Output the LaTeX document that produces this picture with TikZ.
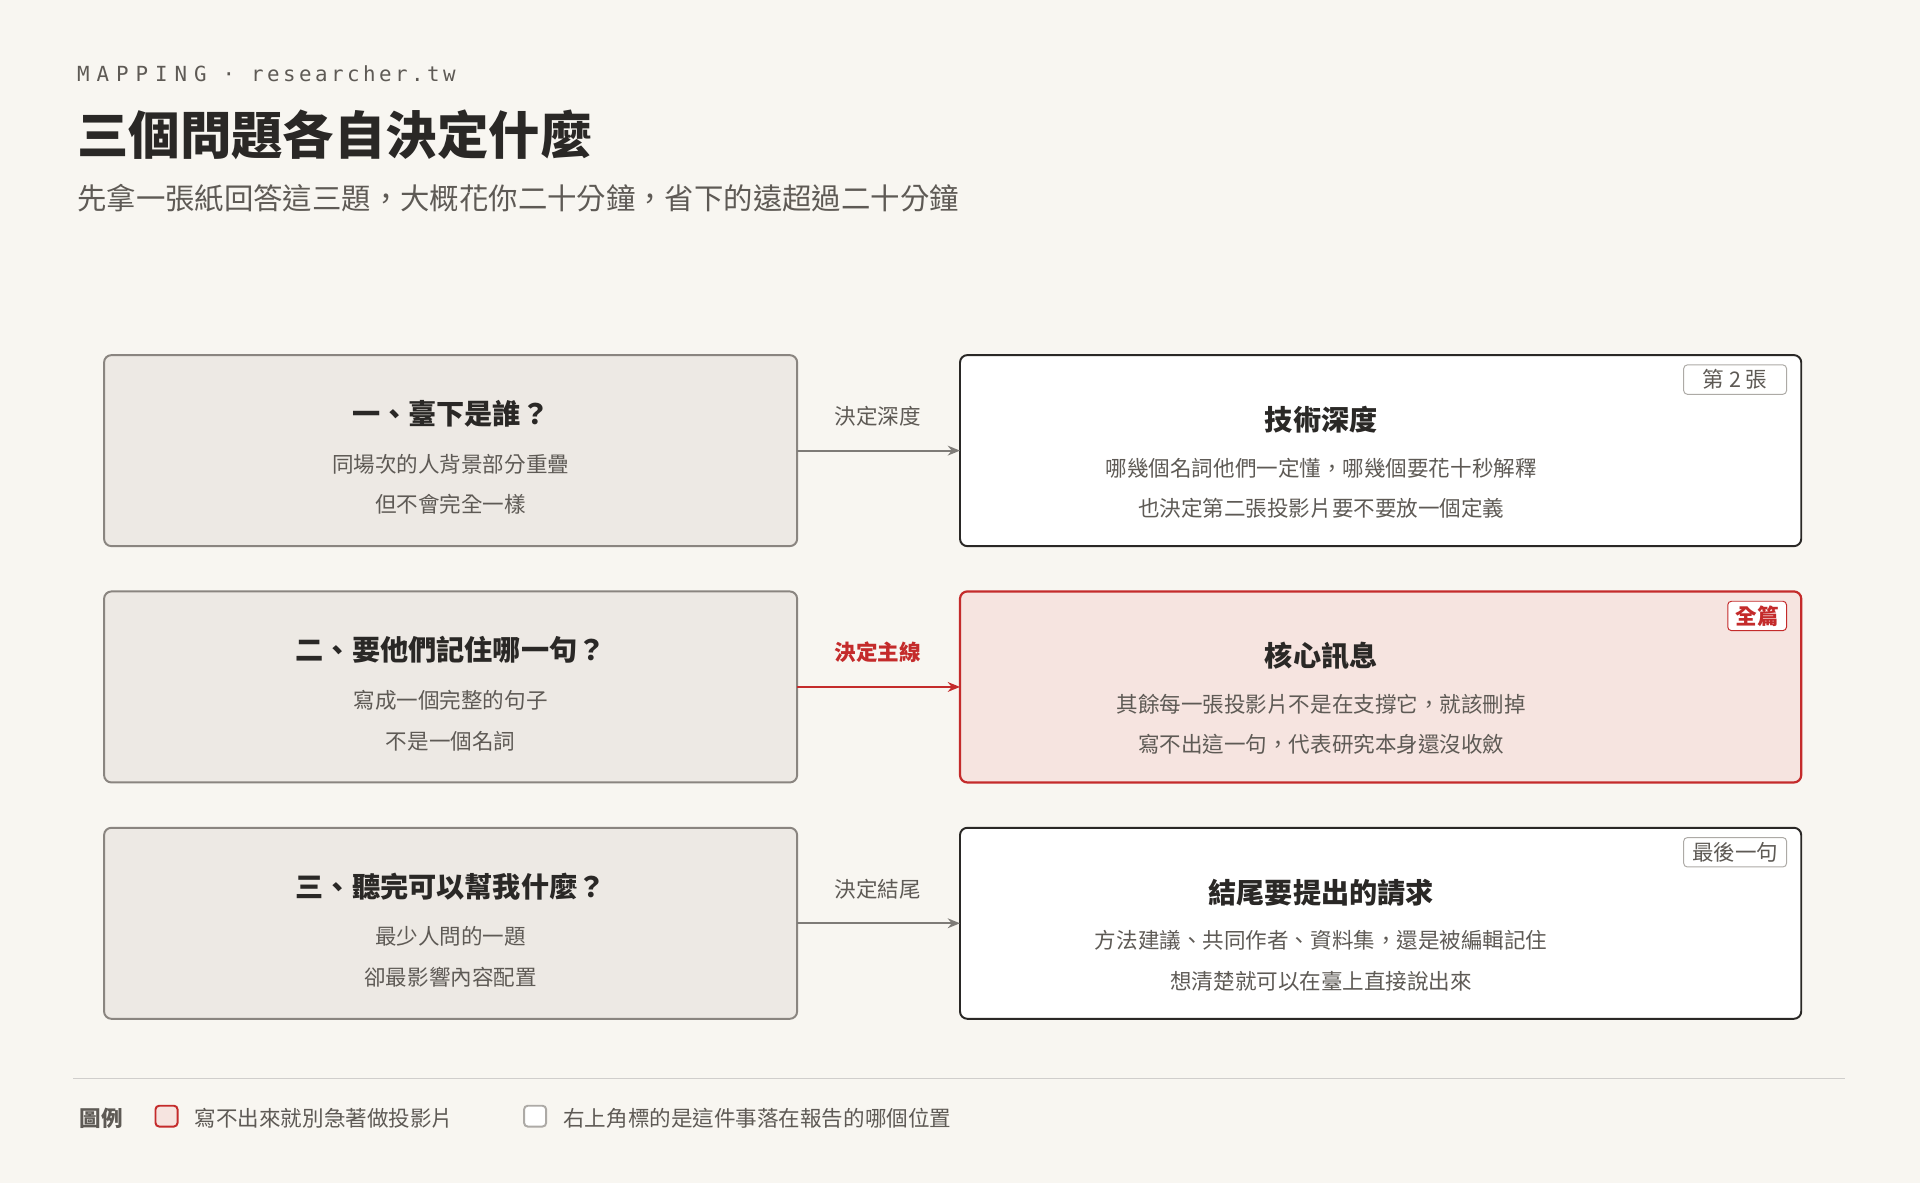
\documentclass[tikz,border=0pt]{standalone}
\usepackage{fontspec}
\setmainfont{Noto Sans CJK TC}
\newfontfamily\monof{DejaVu Sans Mono}
\usetikzlibrary{arrows.meta}
\definecolor{bg}{HTML}{F8F6F1}
\definecolor{lfill}{HTML}{EDE9E4}
\definecolor{lline}{HTML}{8A8580}
\definecolor{dark}{HTML}{2A2826}
\definecolor{gtext}{HTML}{5E5A55}
\definecolor{rred}{HTML}{C42B2B}
\definecolor{rfill}{HTML}{F6E4E0}
\begin{document}
\begin{tikzpicture}[x=0.5pt,y=-0.5pt,
  lbox/.style={draw=lline,fill=lfill,rounded corners=3pt,line width=0.8pt},
  rbox/.style={draw=dark,fill=white,rounded corners=3pt,line width=0.8pt},
  redbox/.style={draw=rred,fill=rfill,rounded corners=3pt,line width=0.9pt},
  ttl/.style={font=\fontsize{11.5}{13}\selectfont\bfseries,text=dark},
  body/.style={font=\fontsize{8.8}{10}\selectfont,text=gtext},
  tag/.style={draw=lline!70,fill=white,rounded corners=1.5pt,font=\fontsize{8.8}{10}\selectfont,text=gtext,minimum width=42pt,minimum height=12pt,inner sep=0pt},
  lab/.style={font=\fontsize{8.8}{10}\selectfont,text=gtext},
  arr/.style={-{Stealth[length=5pt,width=4pt]},line width=0.9pt,draw=gtext!80}]
\fill[bg] (0,0) rectangle (1568,966);
\useasboundingbox (0,0) rectangle (1568,966);
\node[anchor=west,font=\monof\fontsize{8.5}{10}\selectfont,text=gtext] (hd) at (56,60) {M\,\,A\,\,P\,\,P\,\,I\,\,N\,\,G\, · \,r\,e\,s\,e\,a\,r\,c\,h\,e\,r\,.\,t\,w};
\node[anchor=west,font=\fontsize{21}{24}\selectfont\bfseries,text=dark] (tt) at (56,110) {三個問題各自決定什麼};
\node[anchor=west,font=\fontsize{12}{14}\selectfont,text=gtext] (st) at (56,162) {先拿一張紙回答這三題，大概花你二十分鐘，省下的遠超過二十分鐘};
\foreach \i/\y/\lt/\la/\lb/\al in {1/290/一、臺下是誰？/同場次的人背景部分重疊/但不會完全一樣/決定深度,
  2/483/二、要他們記住哪一句？/寫成一個完整的句子/不是一個名詞/決定主線,
  3/676/三、聽完可以幫我什麼？/最少人問的一題/卻最影響內容配置/決定結尾}{
  \draw[lbox] (85,\y) rectangle (651,\y+156);
  \coordinate (L\i) at (651,\y+78);
  \coordinate (R\i) at (784,\y+78);
  \node[ttl] (lt\i) at (368,\y+48) {\lt};
  \node[body] (la\i) at (368,\y+89) {\la};
  \node[body] (lb\i) at (368,\y+122) {\lb};
}
\draw[rbox] (784,290) rectangle (1471,446);
\draw[redbox] (784,483) rectangle (1471,639);
\draw[rbox] (784,676) rectangle (1471,832);
\node[ttl] (rt1) at (1079,343) {技術深度};
\node[body] (ra1) at (1079,382) {哪幾個名詞他們一定懂，哪幾個要花十秒解釋};
\node[body] (rb1) at (1079,415) {也決定第二張投影片要不要放一個定義};
\node[ttl] (rt2) at (1079,536) {核心訊息};
\node[body] (ra2) at (1079,575) {其餘每一張投影片不是在支撐它，就該刪掉};
\node[body] (rb2) at (1079,608) {寫不出這一句，代表研究本身還沒收斂};
\node[ttl] (rt3) at (1079,729) {結尾要提出的請求};
\node[body] (ra3) at (1079,768) {方法建議、共同作者、資料集，還是被編輯記住};
\node[body] (rb3) at (1079,801) {想清楚就可以在臺上直接說出來};
\node[tag] (g1) at (1417,310) {第 2 張};
\node[tag,draw=rred,text=rred,fill=white,minimum width=24pt,font=\fontsize{8.8}{10}\selectfont\bfseries] (g2) at (1435,503) {全篇};
\node[tag] (g3) at (1417,696) {最後一句};
\draw[arr] (L1) -- (R1);
\draw[arr,draw=rred] (L2) -- (R2);
\draw[arr] (L3) -- (R3);
\node[lab] (a1) at (717,340) {決定深度};
\node[lab,text=rred,font=\fontsize{8.8}{10}\selectfont\bfseries] (a2) at (717,533) {決定主線};
\node[lab] (a3) at (717,726) {決定結尾};
\draw[lline!40,line width=0.5pt] (60,881) -- (1507,881);
\node[anchor=west,font=\fontsize{8.8}{10}\selectfont\bfseries,text=gtext] (lg) at (58,913) {圖例};
\draw[rred,fill=rfill,rounded corners=1.5pt,line width=0.8pt] (127,903) rectangle (145,920);
\node[anchor=west,lab] (l1) at (152,913) {寫不出來就別急著做投影片};
\draw[lline!70,fill=white,rounded corners=1.5pt,line width=0.8pt] (428,903) rectangle (446,920);
\node[anchor=west,lab] (l2) at (453,913) {右上角標的是這件事落在報告的哪個位置};
\end{tikzpicture}
\end{document}
